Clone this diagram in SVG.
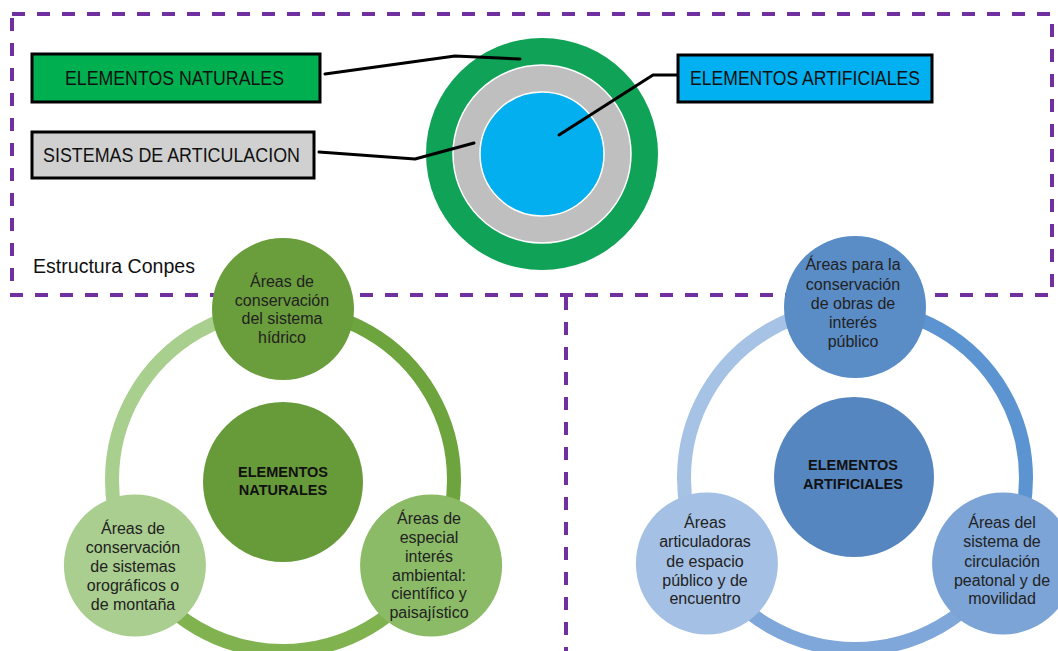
<svg xmlns="http://www.w3.org/2000/svg" width="1058" height="651" viewBox="0 0 1058 651">
<style>
.dash{fill:none;stroke:#7030A0;stroke-width:4;stroke-dasharray:13 12}
.box{stroke:#000;stroke-width:3}
.lbl{font-family:"Liberation Sans",Arial,sans-serif;font-size:20px;fill:#111}
.lead{fill:none;stroke:#000;stroke-width:3;stroke-linejoin:round;stroke-linecap:round}
.ring{fill:none;stroke-width:14}
.nt{font-family:"Liberation Sans",Arial,sans-serif;font-size:16px;fill:#222;text-anchor:middle}
.ct{font-family:"Liberation Sans",Arial,sans-serif;font-size:14.5px;font-weight:bold;fill:#111;text-anchor:middle}
</style>
<rect width="1058" height="651" fill="#fff"/>
<g id="frame">
<path class="dash" d="M12,14 H1052 V295 H12 Z"/>
<path class="dash" d="M566,297 V651"/>
<text class="lbl" x="33" y="273" font-size="19" textLength="162" lengthAdjust="spacingAndGlyphs">Estructura Conpes</text>
</g>
<g id="concentric">
<circle cx="542" cy="154" r="116" fill="#10A256"/>
<circle cx="542" cy="154" r="89" fill="#BFBFBF" stroke="#fff" stroke-width="1.5"/>
<circle cx="542" cy="154" r="62" fill="#03AFEF" stroke="#fff" stroke-width="1.5"/>
</g>
<g id="connectors">
<polyline class="lead" points="325,74 455,56 520,59"/>
<polyline class="lead" points="319,152 415,159 474,143"/>
<polyline class="lead" points="678,75 653,75 559,135"/>
<path class="ring" stroke="#6DA43D" d="M283,309 A171,171 0 0 1 431.1,565.5"/>
<path class="ring" stroke="#80B250" d="M431.1,565.5 A171,171 0 0 1 134.9,565.5"/>
<path class="ring" stroke="#A9CF8F" d="M134.9,565.5 A171,171 0 0 1 283,309"/>
<path class="ring" stroke="#5B94D0" d="M855,307 A171,171 0 0 1 1003.1,563.5"/>
<path class="ring" stroke="#7FA7D9" d="M1003.1,563.5 A171,171 0 0 1 706.9,563.5"/>
<path class="ring" stroke="#A6C3E6" d="M706.9,563.5 A171,171 0 0 1 855,307"/>
</g>
<g id="box-naturales">
<rect class="box" x="32" y="54" width="288" height="48" fill="#00B050"/>
<text class="lbl" x="65" y="85" textLength="219" lengthAdjust="spacingAndGlyphs">ELEMENTOS NATURALES</text>
</g>
<g id="box-articulacion">
<rect class="box" x="32" y="132" width="282" height="46" fill="#D0D0D0"/>
<text class="lbl" x="43" y="162" textLength="257" lengthAdjust="spacingAndGlyphs">SISTEMAS DE ARTICULACION</text>
</g>
<g id="box-artificiales">
<rect class="box" x="678" y="55" width="254" height="47" fill="#00B0F0"/>
<text class="lbl" x="690" y="85" textLength="230" lengthAdjust="spacingAndGlyphs">ELEMENTOS ARTIFICIALES</text>
</g>
<g id="nat-center">
<circle cx="283" cy="482" r="80" fill="#679A39"/>
<text class="ct" x="283" y="477">ELEMENTOS</text>
<text class="ct" x="283" y="495">NATURALES</text>
</g>
<g id="nat-hidrico">
<circle cx="283" cy="309" r="71" fill="#6A9D3B"/>
<text class="nt" x="282" y="287">Áreas de</text>
<text class="nt" x="282" y="306">conservación</text>
<text class="nt" x="282" y="324">del sistema</text>
<text class="nt" x="282" y="343">hídrico</text>
</g>
<g id="nat-ambiental">
<circle cx="431.1" cy="565.5" r="71" fill="#8BBB67"/>
<text class="nt" x="429" y="524">Áreas de</text>
<text class="nt" x="429" y="543">especial</text>
<text class="nt" x="429" y="562">interés</text>
<text class="nt" x="429" y="581">ambiental:</text>
<text class="nt" x="429" y="599">científico y</text>
<text class="nt" x="429" y="618">paisajístico</text>
</g>
<g id="nat-orograficos">
<circle cx="134.9" cy="565.5" r="71" fill="#A9CE8F"/>
<text class="nt" x="133" y="534">Áreas de</text>
<text class="nt" x="133" y="553">conservación</text>
<text class="nt" x="133" y="572">de sistemas</text>
<text class="nt" x="133" y="591">orográficos o</text>
<text class="nt" x="133" y="610">de montaña</text>
</g>
<g id="art-center">
<circle cx="854" cy="477" r="80" fill="#5686C0"/>
<text class="ct" x="853" y="470">ELEMENTOS</text>
<text class="ct" x="853" y="489">ARTIFICIALES</text>
</g>
<g id="art-obras">
<circle cx="855" cy="307" r="71" fill="#5A8CC6"/>
<text class="nt" x="853" y="270">Áreas para la</text>
<text class="nt" x="853" y="290">conservación</text>
<text class="nt" x="853" y="309">de obras de</text>
<text class="nt" x="853" y="328">interés</text>
<text class="nt" x="853" y="347">público</text>
</g>
<g id="art-circulacion">
<circle cx="1003.1" cy="563.5" r="71" fill="#7CA4D6"/>
<text class="nt" x="1002" y="528">Áreas del</text>
<text class="nt" x="1002" y="547">sistema de</text>
<text class="nt" x="1002" y="567">circulación</text>
<text class="nt" x="1002" y="586">peatonal y de</text>
<text class="nt" x="1002" y="604">movilidad</text>
</g>
<g id="art-espacio">
<circle cx="706.9" cy="563.5" r="71" fill="#A4C0E4"/>
<text class="nt" x="705" y="528">Áreas</text>
<text class="nt" x="705" y="547">articuladoras</text>
<text class="nt" x="705" y="567">de espacio</text>
<text class="nt" x="705" y="586">público y de</text>
<text class="nt" x="705" y="604">encuentro</text>
</g>
</svg>
